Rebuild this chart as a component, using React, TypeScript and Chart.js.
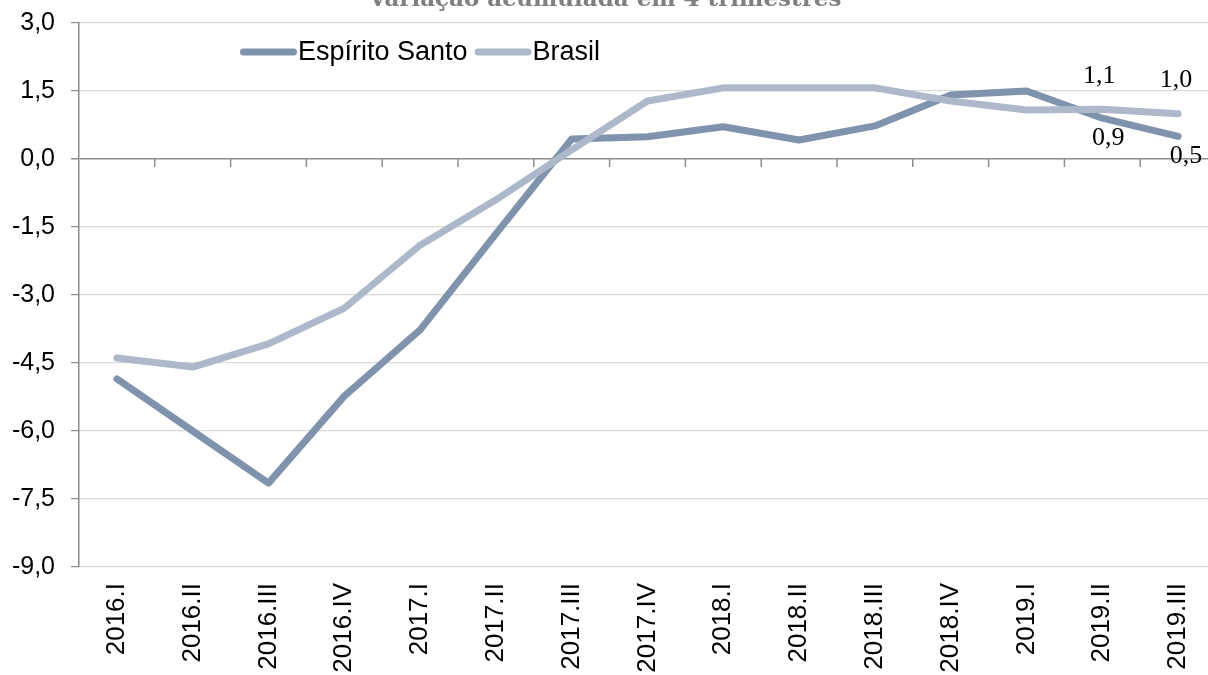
import React, { useEffect, useRef } from "react";
import { Chart, registerables } from "chart.js";

Chart.register(...registerables);

const TITLE = "Variação acumulada em 4 trimestres";
const CATEGORIES = [
  "2016.I", "2016.II", "2016.III", "2016.IV",
  "2017.I", "2017.II", "2017.III", "2017.IV",
  "2018.I", "2018.II", "2018.III", "2018.IV",
  "2019.I", "2019.II", "2019.III",
];
const ES_LABEL = "Espírito Santo";
const ES_VALUES = [-4.85, -6.0, -7.15, -5.23, -3.77, -1.65, 0.44, 0.49, 0.71, 0.42, 0.73, 1.41, 1.5, 0.9, 0.5];
const BR_LABEL = "Brasil";
const BR_VALUES = [-4.39, -4.59, -4.08, -3.29, -1.9, -0.9, 0.2, 1.28, 1.57, 1.57, 1.57, 1.28, 1.08, 1.1, 1.0];
const Y_MIN = -9;
const Y_MAX = 3;
const Y_STEP = 1.5;
// indices of points that carry a value label
const LABELLED_POINTS = [13, 14];

const ES_COLOR = "#7f93ad";
const BR_COLOR = "#adb9cb";
const AXIS_COLOR = "#8c8c8c";
const GRID_COLOR = "#d9d9d9";

const fmt = (v: number) => v.toFixed(1).replace(".", ",");

const decorPlugin = {
  id: "decor",
  beforeDatasetsDraw(chart: any) {
    const { ctx, scales } = chart;
    const x = scales.x;
    const y = scales.y;
    const y0 = y.getPixelForValue(0);
    ctx.save();
    ctx.strokeStyle = AXIS_COLOR;
    ctx.lineWidth = 1.5;
    for (let i = 1; i <= CATEGORIES.length; i++) {
      const px = i < CATEGORIES.length
        ? (x.getPixelForValue(i - 1) + x.getPixelForValue(i)) / 2
        : x.getPixelForValue(i - 1) + (x.getPixelForValue(1) - x.getPixelForValue(0)) / 2;
      ctx.beginPath();
      ctx.moveTo(px, y0);
      ctx.lineTo(px, y0 + 8);
      ctx.stroke();
    }
    ctx.restore();
  },
  afterDraw(chart: any) {
    const { ctx, scales } = chart;
    const x = scales.x;
    const y = scales.y;
    ctx.save();
    // title (cut by the top edge as in the reference)
    ctx.font = "bold 23px 'DejaVu Serif'";
    ctx.fillStyle = "#7f7f7f";
    ctx.textAlign = "center";
    ctx.textBaseline = "alphabetic";
    ctx.fillText(TITLE, 605, 6);

    // legend
    ctx.font = "27px 'Liberation Sans'";
    ctx.textBaseline = "middle";
    ctx.textAlign = "left";
    let lx = 240;
    const ly = 52;
    chart.data.datasets.forEach((ds: any) => {
      ctx.strokeStyle = ds.borderColor;
      ctx.lineWidth = 7;
      ctx.lineCap = "round";
      ctx.beginPath();
      ctx.moveTo(lx + 3.5, ly);
      ctx.lineTo(lx + 53.5, ly);
      ctx.stroke();
      ctx.fillStyle = "#000";
      ctx.fillText(ds.label, lx + 58, ly + 1);
      lx += 58 + ctx.measureText(ds.label).width + 7;
    });

    // value labels
    ctx.font = "26px 'Liberation Serif'";
    ctx.fillStyle = "#000";
    ctx.textAlign = "center";
    LABELLED_POINTS.forEach((i, k) => {
      const px = x.getPixelForValue(i);
      const pb = y.getPixelForValue(BR_VALUES[i]);
      ctx.fillText(fmt(BR_VALUES[i]), px + (k === 0 ? -3 : -2), pb - 33);
      const pe = y.getPixelForValue(ES_VALUES[i]);
      ctx.fillText(fmt(ES_VALUES[i]), px + (k === 0 ? 6 : 8), pe + 20);
    });
    ctx.restore();
  },
};

export default function App() {
  const ref = useRef<HTMLCanvasElement | null>(null);
  useEffect(() => {
    if (!ref.current) return;
    const chart = new Chart(ref.current, {
      type: "line",
      data: {
        labels: CATEGORIES,
        datasets: [
          {
            label: ES_LABEL,
            data: ES_VALUES,
            borderColor: ES_COLOR,
            backgroundColor: ES_COLOR,
            borderWidth: 7,
            pointRadius: 0,
            tension: 0,
            borderJoinStyle: "round",
            borderCapStyle: "round",
            order: 1,
          },
          {
            label: BR_LABEL,
            data: BR_VALUES,
            borderColor: BR_COLOR,
            backgroundColor: BR_COLOR,
            borderWidth: 7,
            pointRadius: 0,
            tension: 0,
            borderJoinStyle: "round",
            borderCapStyle: "round",
            order: 0,
          },
        ],
      },
      options: {
        responsive: false,
        animation: false,
        layout: { padding: { top: 23, right: 14, left: 0, bottom: 0 } },
        plugins: {
          legend: { display: false },
          title: { display: false },
          tooltip: { enabled: false },
        },
        scales: {
          x: {
            type: "category",
            offset: true,
            grid: { display: false, drawTicks: false },
            border: { display: false },
            ticks: {
              autoSkip: false,
              minRotation: 90,
              maxRotation: 90,
              padding: 16,
              color: "#000",
              font: { family: "'Liberation Sans'", size: 26 },
            },
            afterFit: (s: any) => { s.height = 108; s.paddingLeft = 0; s.paddingRight = 0; },
          },
          y: {
            min: Y_MIN,
            max: Y_MAX,
            ticks: {
              stepSize: Y_STEP,
              padding: 16,
              color: "#000",
              font: { family: "'Liberation Sans'", size: 25 },
              callback: (v: any) => fmt(Number(v)),
            },
            grid: {
              color: (c: any) => (c.tick && c.tick.value === 0 ? AXIS_COLOR : GRID_COLOR),
              lineWidth: (c: any) => (c.tick && c.tick.value === 0 ? 1.5 : 1.2),
              tickColor: AXIS_COLOR,
              tickLength: 8,
              drawTicks: true,
            },
            border: { display: true, color: AXIS_COLOR, width: 1.5 },
            afterFit: (s: any) => { s.width = 79; s.paddingTop = 0; s.paddingBottom = 0; },
          },
        },
      },
      plugins: [decorPlugin],
    });
    return () => chart.destroy();
  }, []);
  return (
    <div style={{ position: "absolute", left: 0, top: 0, width: 1208, height: 675, overflow: "hidden", background: "#fff" }}>
      <canvas ref={ref} width={1230} height={675} style={{ display: "block" }} />
    </div>
  );
}
